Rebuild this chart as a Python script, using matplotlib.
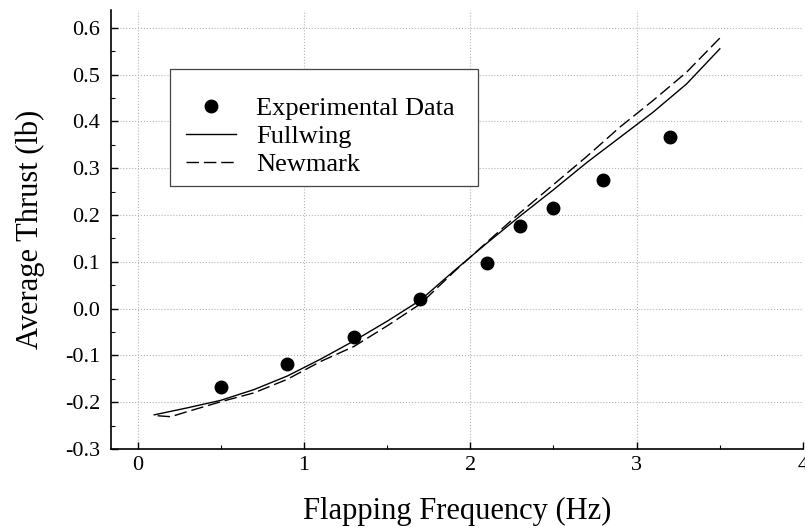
import matplotlib
matplotlib.use("Agg")
import matplotlib.pyplot as plt
from matplotlib.patches import Rectangle
from matplotlib.ticker import MultipleLocator

plt.rcParams['font.family'] = ['Liberation Serif', 'DejaVu Serif']
plt.rcParams['axes.unicode_minus'] = False

# Experimental data points
exp_freq = [0.5, 0.9, 1.3, 1.7, 2.1, 2.3, 2.5, 2.8, 3.2]
exp_thrust = [-0.168, -0.119, -0.060, 0.020, 0.098, 0.177, 0.216, 0.275, 0.366]

# Fullwing prediction (solid)
full_freq = [0.1, 0.3, 0.5, 0.7, 0.9, 1.1, 1.3, 1.5, 1.7, 1.9,
             2.1, 2.3, 2.5, 2.7, 2.9, 3.1, 3.3, 3.5]
full_thrust = [-0.227, -0.212, -0.196, -0.173, -0.144, -0.108, -0.069, -0.027, 0.018, 0.080,
               0.140, 0.198, 0.254, 0.312, 0.366, 0.420, 0.480, 0.555]

# Newmark prediction (dashed)
newm_freq = [0.12, 0.2, 0.3, 0.5, 0.7, 0.9, 1.1, 1.3, 1.5, 1.7, 1.9,
             2.1, 2.3, 2.5, 2.7, 2.9, 3.1, 3.3, 3.5]
newm_thrust = [-0.229, -0.231, -0.220, -0.199, -0.180, -0.151, -0.113, -0.081, -0.037, 0.010, 0.078,
               0.142, 0.205, 0.265, 0.325, 0.388, 0.445, 0.505, 0.578]

x_ticks = [0, 1, 2, 3, 4]
y_ticks = [-0.3, -0.2, -0.1, 0.0, 0.1, 0.2, 0.3, 0.4, 0.5, 0.6]
y_tick_labels = ["-0.3", "-0.2", "-0.1", "0.0", "0.1", "0.2", "0.3", "0.4", "0.5", "0.6"]

fig = plt.figure(figsize=(8.05, 5.28), dpi=100)
ax = fig.add_axes([111 / 805, 79 / 528, 692 / 805, 439 / 528])

ax.plot(exp_freq, exp_thrust, 'o', color='black', markersize=9, label='Experimental Data', zorder=4)
ax.plot(full_freq, full_thrust, '-', color='black', lw=1.0, label='Fullwing', zorder=3)
ax.plot(newm_freq, newm_thrust, color='black', lw=1.0, linestyle=(0, (9, 3.5)), label='Newmark', zorder=3)

ax.set_xlim(-0.16, 4.0)
ax.set_ylim(-0.3, 0.638)
ax.set_xticks(x_ticks)
ax.set_yticks(y_ticks)
ax.set_yticklabels(y_tick_labels)
ax.xaxis.set_minor_locator(MultipleLocator(0.5))
ax.yaxis.set_minor_locator(MultipleLocator(0.05))

ax.grid(True, which='major', linestyle=':', color='#b5b5b5', lw=0.8)
ax.tick_params(which='major', direction='in', length=5, width=1, labelsize=16, pad=8)
ax.tick_params(axis='x', which='major', pad=5)
ax.tick_params(which='minor', direction='in', length=3, width=0.8)

for side in ['top', 'right']:
    ax.spines[side].set_visible(False)
for side in ['left', 'bottom']:
    ax.spines[side].set_linewidth(1.2)

ax.set_xlabel('Flapping Frequency (Hz)', fontsize=22, labelpad=16)
ax.set_ylabel('Average Thrust (lb)', fontsize=22, labelpad=14)

# legend box drawn separately so the entries can sit lower inside it
box = Rectangle((170 / 805, 1 - 186 / 528), 308 / 805, 117 / 528, transform=fig.transFigure,
                facecolor='white', edgecolor='#444444', lw=0.9, zorder=5)
ax.add_patch(box)
box.set_clip_on(False)

leg = ax.legend(loc='upper left', bbox_to_anchor=(178 / 805, 1 - 89 / 528),
                bbox_transform=fig.transFigure, borderaxespad=0, fontsize=19,
                frameon=False, handlelength=1.9, handletextpad=0.75,
                labelspacing=0.17, borderpad=0.3)
leg.set_zorder(6)

fig.savefig('out.png', dpi=100)
